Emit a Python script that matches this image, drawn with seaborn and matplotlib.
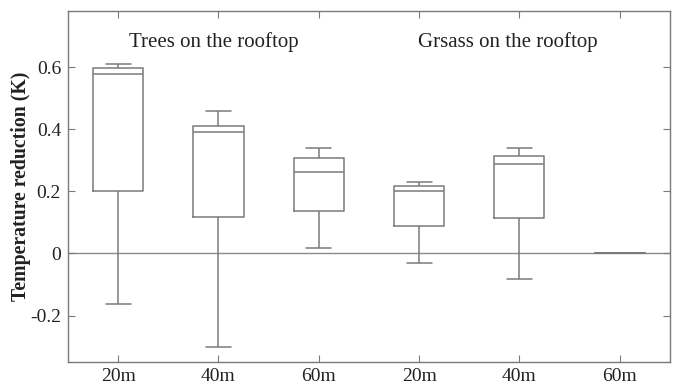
import numpy as np
import pandas as pd
import matplotlib
matplotlib.use("Agg")
import matplotlib.pyplot as plt
import seaborn as sns

# Five-number summaries (min, Q1, median, Q3, max) of the temperature reduction, K
groups = ["Trees 20m", "Trees 40m", "Trees 60m", "Grass 20m", "Grass 40m", "Grass 60m"]
tick_labels = ["20m", "40m", "60m", "20m", "40m", "60m"]
trees_20m = [-0.163, 0.203, 0.580, 0.599, 0.610]
trees_40m = [-0.303, 0.119, 0.393, 0.410, 0.458]
trees_60m = [0.017, 0.137, 0.264, 0.307, 0.340]
grass_20m = [-0.032, 0.089, 0.202, 0.218, 0.229]
grass_40m = [-0.083, 0.113, 0.289, 0.315, 0.340]
grass_60m = [0.002, 0.002, 0.002, 0.002, 0.002]
summaries = [trees_20m, trees_40m, trees_60m, grass_20m, grass_40m, grass_60m]

rows = [(g, v) for g, vals in zip(groups, summaries) for v in vals]
df = pd.DataFrame(rows, columns=["group", "reduction"])

sns.set_style("ticks")
plt.rcParams["font.family"] = ["Liberation Serif", "DejaVu Serif"]

line_col = "#7a7a7a"
text_col = "#222222"

fig = plt.figure(figsize=(6.78, 3.85), dpi=100)
ax = fig.add_axes([0.1003, 0.0597, 0.8877, 0.9117])

ax.axhline(0, color="#8a8a8a", lw=1.0, zorder=0)

sns.boxplot(data=df, x="group", y="reduction", order=groups, whis=(0, 100),
            fill=False, width=0.5, color=line_col, linecolor=line_col,
            linewidth=1.1, showfliers=False, ax=ax)

ax.set_xlim(-0.5, 5.5)
ax.set_ylim(-0.35, 0.782)
ax.set_yticks([-0.2, 0, 0.2, 0.4, 0.6])
ax.set_yticklabels(["-0.2", "0", "0.2", "0.4", "0.6"])
ax.set_xticks(range(len(groups)))
ax.set_xticklabels(tick_labels)
ax.set_xlabel("")
ax.set_ylabel("Temperature reduction (K)", fontsize=14.2, fontweight="bold",
              color=text_col, labelpad=-1)

ax.tick_params(direction="in", length=5, width=0.8, color=line_col,
               labelsize=14, labelcolor=text_col, top=True, right=True)
ax.tick_params(axis="y", pad=5)
ax.tick_params(axis="x", pad=4)
for s in ax.spines.values():
    s.set_color(line_col)
    s.set_linewidth(1.0)

ax.text(0.95, 0.681, "Trees on the rooftop", ha="center", va="center",
        fontsize=15, color=text_col)
ax.text(3.88, 0.681, "Grsass on the rooftop", ha="center", va="center",
        fontsize=15, color=text_col)

fig.savefig("out.png", dpi=100)
